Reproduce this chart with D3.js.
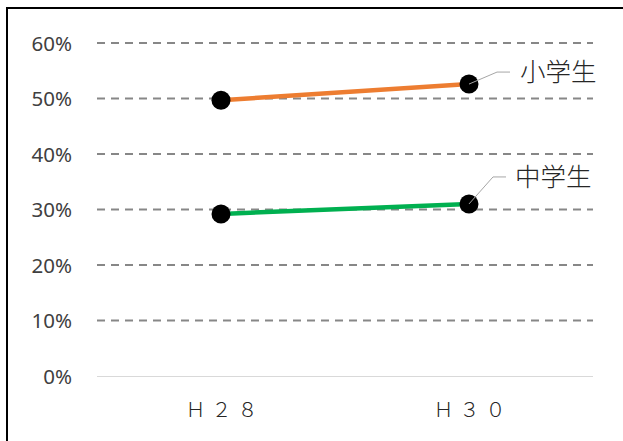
<!DOCTYPE html>
<html><head><meta charset="utf-8">
<script src="https://cdn.jsdelivr.net/npm/d3@7"></script>
<style>body{margin:0;background:#fff}svg{display:block}</style>
</head><body>
<svg id="c" width="623" height="441"></svg>
<script>
const categories = ["Ｈ２８", "Ｈ３０"];
const seriesNames = ["小学生", "中学生"];
const elementary = [0.497, 0.526];
const juniorHigh = [0.292, 0.310];
const yTicks = [0, 0.1, 0.2, 0.3, 0.4, 0.5, 0.6];
const colors = ["#ED7D31", "#00B050"];

const svg = d3.select("#c");
// frame
svg.append("path").attr("d", "M7,441 V8 H623").attr("fill", "none").attr("stroke", "#000").attr("stroke-width", 2);

const x = d3.scalePoint().domain(categories).range([97, 593]).padding(0.5);
const y = d3.scaleLinear().domain([0, 0.6]).range([376, 43]);

// gridlines
svg.append("g").selectAll("line").data(yTicks.filter(d => d > 0)).join("line")
  .attr("x1", 97).attr("x2", 593)
  .attr("y1", d => y(d)).attr("y2", d => y(d))
  .attr("stroke", "#878787").attr("stroke-width", 2).attr("stroke-dasharray", "8,6");

// y axis labels
const yAxis = d3.axisLeft(y).tickValues(yTicks).tickFormat(d3.format(".0%")).tickSize(0).tickPadding(0);
const ya = svg.append("g").attr("transform", "translate(72,0)").call(yAxis);
ya.select(".domain").remove();
ya.selectAll("text").attr("font-family", "'Noto Sans', sans-serif").attr("font-size", 20.5).attr("fill", "#404040").attr("dy", "0.35em");

// x axis
const xAxis = d3.axisBottom(x).tickSize(0).tickPadding(0);
const xa = svg.append("g").attr("transform", "translate(0,376)").call(xAxis);
xa.select(".domain").attr("d", "M97,0.5 H593").attr("stroke", "#d9d9d9").attr("stroke-width", 1);
xa.selectAll("text").attr("font-family", "'Noto Sans CJK JP', sans-serif").attr("font-size", 20).attr("font-weight", 300)
  .attr("fill", "#262626").attr("y", 34).attr("dy", "0.35em").attr("letter-spacing", "6px").attr("dx", "3px");

const series = [elementary, juniorHigh];
const line = d3.line().x((d, i) => x(categories[i])).y(d => y(d));
series.forEach((vals, k) => {
  svg.append("path").datum(vals).attr("d", line).attr("fill", "none")
    .attr("stroke", colors[k]).attr("stroke-width", 4.5);
});
series.forEach((vals) => {
  svg.append("g").selectAll("circle").data(vals).join("circle")
    .attr("cx", (d, i) => x(categories[i])).attr("cy", d => y(d)).attr("r", 9.5).attr("fill", "#000");
});

// labels with leader lines
const labelOff = [{dx: 28, dy: -12, tx: 51}, {dx: 24, dy: -27, tx: 46}];
series.forEach((vals, k) => {
  const px = x(categories[1]), py = y(vals[1]);
  const o = labelOff[k];
  svg.append("path").attr("d", `M${px},${py} L${px + o.dx},${py + o.dy} H${px + o.dx + 13}`)
    .attr("fill", "none").attr("stroke", "#a6a6a6").attr("stroke-width", 1);
  svg.append("text").attr("x", px + o.tx).attr("y", py + o.dy).attr("dy", "0.35em")
    .attr("font-family", "'Noto Sans CJK JP', sans-serif").attr("font-size", 25.5).attr("font-weight", 300)
    .attr("fill", "#262626").text(seriesNames[k]);
});
</script>
</body></html>
